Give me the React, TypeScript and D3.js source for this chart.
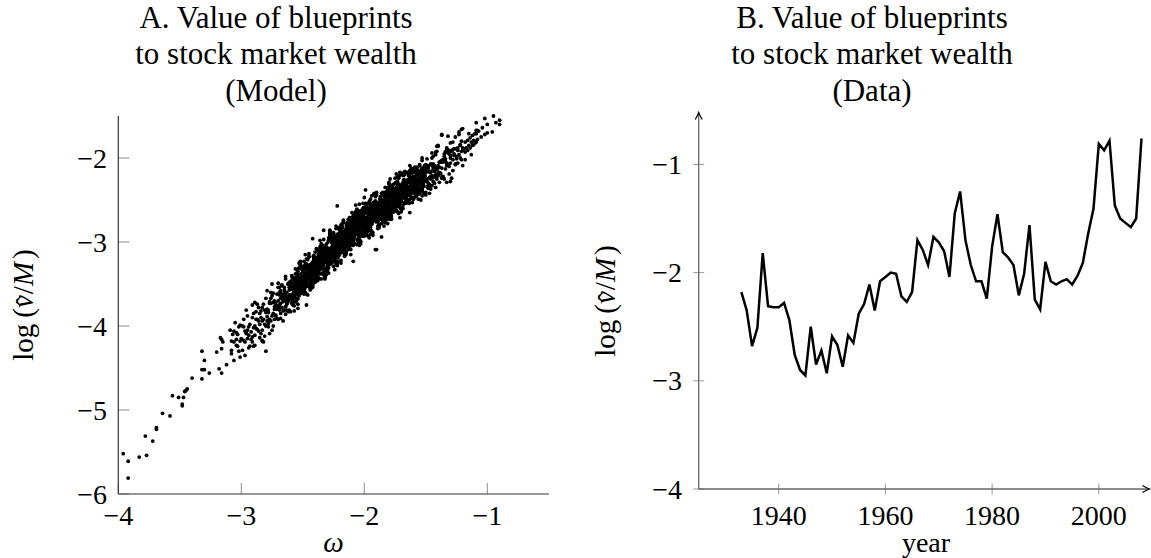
import React from 'react';
import * as d3 from 'd3';

const W = 1151;
const H = 558;
const FONT = "'Liberation Serif', 'Times New Roman', serif";

// ---------- Panel A: model scatter ----------
// each row: "-omega*100 : -log(nu/M)*100 values read for that omega"
const scatterRows = `
396:552
392:561 581
383:556
378:531
377:554
372:537
369:521 523
364:504
358:507
356:483
351:485
348:493 495
347:485
346:478
345:477
344:475
340:462
332:463 452 430
330:452 441
326:456
320:431
318:451
317:414
316:456 427 416
315:419
312:446
308:429
306:406
304:416
302:401
301:437
298:392
296:409
294:426
291:419 375
290:424
289:423
283:418 417
280:430
300:415
301:399 418
302:430
303:410 424
304:423 408
305:396
306:419 441
307:410
308:433 418
309:405
290:402 385
291:390 413
292:416 407
293:398 424
294:411 401
295:388 415 405
296:407 381
297:419 406 435
298:401 417
299:429 400
280:384 400 367
281:398 381 412
282:374 392 419
283:394 378 405
284:409 390 382
285:385 414 398
286:394 378 406
287:374 404 392
288:403 392 383
289:411 372 400
270:354 349 392 370
271:391 380 362 376
272:388 375 387 372
273:380 392 377 370
274:400 372 385 361
275:388 364 350 405
276:373 367 360 394
277:371 409 373 392
278:384 381 397 401
279:380 394 389 358
260:347 350 365 365 356 383
261:381 348 366 363 357 354
262:368 350 383 350 365 371
263:366 360 381 372 374 370
264:341 377 344 386 377 362
265:381 354 360 366 369 357
266:370 364 366 394 382 371
267:351 378 363 364 352 366
268:361 391 373 358 367 385
269:363 360 375 354 381 378
250:344 350 341 335 359 332 356 329
251:331 346 343 361 332 347 349 355
252:326 344 347 327 356 323 348 324
253:358 361 331 325 352 364 351 353
254:335 362 374 350 359 332 351 368
255:349 355 352 356 361 367 337 346
256:350 353 332 371 359 338 347 362
257:346 376 364 355 361 354 357 382
258:371 370 362 374 375 368 353 372
259:349 352 367 340 355 356 364 373
240:330 327 336 312 348 324 321 339 322 337
241:319 322 316 337 320 334 331 318 340 328
242:327 354 333 324 334 351 330 350 339 352
243:331 352 332 346 347 330 337 329 343 355
244:339 357 336 338 327 349 346 331 332 340
245:314 317 350 332 335 341 344 333 351 318
246:351 336 330 337 342 321 329 331 328 363
247:329 362 320 330 344 326 353 347 341 338
248:351 339 345 346 315 327 340 360 333 348
249:350 362 347 353 323 341 356 348 329 354
230:328 313 334 307 310 316 311 319 325 301 329
231:306 333 334 318 321 303 332 319 315 309 339
232:322 319 340 310 343 320 344 311 307 337 342
233:318 306 317 319 336 309 297 321 312 339 322
234:304 325 319 322 320 313 307 337 328 326 323
235:344 305 317 338 329 314 332 302 315 323 318
236:325 326 298 310 311 319 307 306 313 328 309
237:335 332 317 344 329 330 320 311 326 328 321
238:346 310 334 337 319 338 322 340 336 343 323
239:341 326 329 342 320 332 335 308 330 338 327
220:285 306 286 297 284 307 283 305 291 292 308 300
221:307 295 283 301 284 304 300 313 290 293 308 309
222:301 328 325 292 310 307 300 298 311 293 324 291
223:308 314 309 302 323 313 315 316 281 317 284 326
224:318 303 321 294 300 306 309 297 311 302 304 333
225:323 311 290 317 302 301 289 305 299 329 313 296
226:306 324 300 297 312 291 318 315 309 316 305 301
227:325 298 322 295 294 310 307 326 296 312 313 319
228:290 308 311 291 320 287 313 288 321 323 293 286
229:316 328 317 315 298 325 337 313 322 295 312 331
210:283 289 286 290 295 301 271 280 284 288 265 304
211:294 273 282 297 279 309 298 288 295 290 287 315
212:304 305 295 307 308 301 286 303 280 283 298 271
213:288 287 297 306 291 289 296 273 309 285 282 300
214:283 298 280 284 277 299 279 295 292 281 301 289
215:288 315 294 285 296 312 291 313 300 311 290 314
216:292 307 308 293 298 291 304 316 299 317 295 297
217:288 310 307 292 293 301 274 277 311 291 295 299
218:305 293 311 278 312 296 290 297 302 281 289 291
219:292 325 289 322 280 288 304 286 313 307 301 298
200:283 271 277 278 247 259 272 292 265 280 281 293
201:278 284 254 272 287 279 260 285 288 273 293 266
202:271 277 270 280 286 262 289 265 292 293 278 281
203:263 293 278 275 269 299 281 279 300 268 302 277
204:303 270 267 297 304 276 264 275 277 294 266 255
205:281 272 299 282 263 284 278 280 279 271 266 296
206:288 285 282 303 264 276 297 289 273 291 261 274
207:283 277 284 282 256 268 267 278 265 264 271 286
208:269 293 290 275 302 287 288 278 270 284 286 279
209:304 268 292 295 277 296 280 298 294 301 279 299
190:259 262 274 253 265 268 241 263 271 261 244
191:266 245 257 246 267 244 265 251 252 268 260
192:267 255 243 261 242 264 262 273 254 257 272
193:274 265 292 289 256 275 271 267 262 273 257
194:290 257 272 278 273 266 287 277 279 276 245
195:282 249 291 283 267 285 258 264 270 273 261
196:274 268 270 295 286 275 253 280 265 266 252
197:269 263 293 275 260 271 287 262 261 276 254
198:283 280 274 279 271 265 289 262 286 259 258
199:275 272 290 260 276 278 284 254 273 277 255
180:262 229 253 230 263 265 235 231 256 268
181:257 258 239 266 278 254 263 236 255 272
182:252 258 255 259 264 270 240 249 251 256
183:235 274 262 241 250 265 247 277 266 256
184:263 257 258 281 272 273 264 275 276 269
185:256 274 250 253 268 241 257 258 265 275
186:260 257 266 242 278 254 251 269 250 267
187:249 252 246 267 248 264 261 250 270 258
188:256 283 262 253 261 280 259 281 268 279
189:260 281 262 275 276 259 266 261 272 284
170:246 264 243 247 234 252 249 235 233 244
171:217 220 253 235 238 244 247 236 254 221
172:254 239 233 240 245 224 232 234 231 266
173:231 264 222 232 246 228 255 249 243 240
174:253 241 247 248 219 229 242 262 235 250
175:251 263 248 254 224 242 257 249 230 255
176:258 243 264 237 240 246 239 249 255 231
177:259 235 262 263 247 250 232 261 246 244
178:239 269 251 248 270 238 272 250 273 240
179:237 267 273 246 234 245 247 264 236 225
160:231 222 249 233 213 234 228 232 229
161:223 217 247 238 235 232 253 214 226
162:248 239 224 242 212 225 233 227 235
163:234 209 219 218 228 216 215 222 237
164:220 244 241 226 253 238 237 229 221
165:235 238 229 253 217 241 244 226 245
166:230 248 245 251 231 249 233 236 247
167:228 240 243 216 237 246 239 219 241
168:220 232 221 241 219 242 226 227 240
169:236 242 230 218 237 219 239 235 248
150:208 211 226 227 217 244 241 209
151:227 224 218 215 228 209 242 210
152:226 232 227 220 241 231 233 234
153:200 236 203 245 237 221 239 212
154:219 225 228 216 229 222 223 250
155:242 230 209 236 221 220 208 224
156:219 249 231 216 225 243 218 215
157:232 211 238 235 229 236 226 220
158:245 218 242 215 214 230 227 246
159:217 232 235 241 211 229 233 212
140:218 185 209 186 219 221
141:192 186 213 225 214 212
142:196 223 235 211 220 193
143:212 230 209 215 213 216
144:222 228 198 207 210 213
145:194 233 221 200 209 224
146:207 237 225 216 222 217
147:217 242 232 231 223 235
148:236 230 215 233 209 212
149:228 201 216 215 225 234
130:200 197 206 182
131:219 195 192 210
132:193 208 190 194
133:188 209 191 206
134:204 192 213 201
135:198 225 204 195
136:205 223 202 222
137:212 224 203 223
138:204 219 218 205
139:211 205 217 229
120:191 209 188
121:192 180 202
122:200 185 184
123:196 169 172
124:206 188 191
125:198 201 189
126:208 175 207
127:195 189 197
128:202 181 190
129:191 192 224
110:171 182
111:184
112:173 185
113:181
114:176 188
115:185
116:179 191
117:188
118:181 193
119:189
100:160 170
102:172
104:164
105:175
107:168
108:178
109:171
254:379
247:375
242:296
233:286
222:257 323
209:323
199:238
191:309
190:309
186:294
171:271
163:265
137:173 172
133:229
132:174
130:228
128:215
121:166
120:165
118:202
115:171
113:196
111:179
109:158 167 181
108:167
102:153
96:169
90:155 160
93:158
95:150
259.5:369 367 356 355 363
258.5:342 344 367 354 356
257.5:360 362 353 366 343
256.5:364 353 349 355 358
255.5:342 348 347 349 371
254.5:344 367 338 343 355
253.5:341 360 356 351 349
252.5:356 347 352 353 330
251.5:338 346 361 342 353
250.5:351 359 349 353 332
249.5:343 354 348 335 352
248.5:352 341 356 337 339
247.5:342 338 345 349 332
246.5:349 332 351 352 340
245.5:342 329 350 339 337
244.5:332 353 341 338 354
243.5:330 353 336 352 329
242.5:327 348 352 333 325
241.5:331 334 344 325 317
240.5:332 326 345 330 320
239.5:333 328 330 327 324
238.5:319 340 334 332 329
237.5:342 315 323 338 332
236.5:320 333 312 319 326
235.5:320 324 322 305 314
234.5:313 319 311 310 315
233.5:325 312 329 327 316
232.5:333 323 324 316 310
231.5:319 322 315 332 307
230.5:322 324 311 325 313
229.5:325 323 327 312 326
228.5:312 314 323 308 317
227.5:318 299 313 320 311
226.5:300 315 301 308 299
225.5:314 299 315 303 304
224.5:312 307 313 303 295
223.5:306 294 308 305 315
222.5:296 298 309 310 302
221.5:319 317 294 307 305
220.5:299 297 306 293 316
219.5:292 303 307 304 298
218.5:311 305 306 304 282
217.5:306 283 312 307 295
216.5:306 287 291 296 298
215.5:288 297 292 291 314
214.5:303 295 280 299 288
213.5:287 279 289 285 306
212.5:292 281 287 300 283
211.5:280 291 276 295 293
210.5:287 291 284 280 297
209.5:277 294 275 276 286
208.5:281 294 273 284 286
207.5:289 268 280 283 269
206.5:288 265 282 266 289
205.5:289 268 264 283 291
204.5:281 282 268 287 295
203.5:278 284 265 280 290
202.5:274 279 277 280 283
201.5:285 264 270 272 275
200.5:259 286 278 263 269
199.5:279 266 287 280 273
198.5:276 272 274 291 282
197.5:280 274 282 283 278
196.5:266 279 262 264 275
195.5:255 265 266 272 278
194.5:267 264 271 254 279
193.5:261 259 272 260 270
192.5:255 257 253 268 256
191.5:265 263 254 269 260
190.5:257 276 262 255 264
189.5:273 258 274 265 272
188.5:257 272 256 268 269
187.5:256 261 255 265 273
186.5:260 272 258 259 251
185.5:270 268 257 256 264
184.5:243 245 268 255 257
183.5:261 263 254 267 244
182.5:266 255 251 253 260
181.5:244 250 249 251 273
180.5:247 270 241 246 258
179.5:244 263 259 254 252
178.5:260 251 256 257 234
177.5:242 250 265 246 257
176.5:256 264 254 258 237
175.5:248 259 253 240 257
174.5:258 247 262 243 245
173.5:248 244 251 255 238
172.5:256 239 258 257 247
171.5:249 236 257 246 244
170.5:239 260 248 245 259
169.5:238 261 244 260 237
168.5:235 256 260 241 233
167.5:240 241 253 234 226
166.5:241 235 254 242 229
165.5:243 238 240 239 234
164.5:229 250 244 242 239
163.5:254 227 235 250 244
162.5:232 245 224 233 238
161.5:233 237 238 218 227
160.5:226 232 224 223 228
159.5:238 225 242 240 229
158.5:246 236 237 229 223
157.5:232 235 228 245 220
156.5:236 238 225 239 227
155.5:239 237 241 226 240
154.5:226 228 237 222 231
153.5:232 213 227 234 228
152.5:214 229 215 222 213
151.5:227 212 228 216 217
150.5:226 221 227 217 209
`;

const scatterOmega: number[] = [];
const scatterLogV: number[] = [];
scatterRows
  .trim()
  .split('\n')
  .forEach((line) => {
    const [k, vs] = line.split(':');
    const om = -Number(k) / 100;
    vs.trim()
      .split(/\s+/)
      .forEach((v) => {
        scatterOmega.push(om);
        scatterLogV.push(-Number(v) / 100);
      });
  });

const xTicksA = [-4, -3, -2, -1];
const yTicksA = [-6, -5, -4, -3, -2];

// ---------- Panel B: data series ----------
const years = [
  1933, 1934, 1935, 1936, 1937, 1938, 1939, 1940, 1941, 1942, 1943, 1944, 1945,
  1946, 1947, 1948, 1949, 1950, 1951, 1952, 1953, 1954, 1955, 1956, 1957, 1958,
  1959, 1960, 1961, 1962, 1963, 1964, 1965, 1966, 1967, 1968, 1969, 1970, 1971,
  1972, 1973, 1974, 1975, 1976, 1977, 1978, 1979, 1980, 1981, 1982, 1983, 1984,
  1985, 1986, 1987, 1988, 1989, 1990, 1991, 1992, 1993, 1994, 1995, 1996, 1997,
  1998, 1999, 2000, 2001, 2002, 2003, 2004, 2005, 2006, 2007, 2008,
];
const logNuData = [
  -2.18, -2.35, -2.68, -2.51, -1.82, -2.31, -2.32, -2.32, -2.28, -2.44, -2.76, -2.9, -2.95,
  -2.5, -2.85, -2.72, -2.93, -2.59, -2.67, -2.87, -2.58, -2.65, -2.38, -2.29, -2.11, -2.35,
  -2.08, -2.04, -2.0, -2.01, -2.22, -2.27, -2.18, -1.7, -1.79, -1.93, -1.67, -1.72, -1.8,
  -2.04, -1.45, -1.25, -1.7, -1.93, -2.08, -2.08, -2.24, -1.76, -1.46, -1.81, -1.86, -1.93,
  -2.21, -2.01, -1.56, -2.25, -2.34, -1.9, -2.08, -2.11, -2.08, -2.06, -2.11, -2.03, -1.91,
  -1.64, -1.41, -0.81, -0.87, -0.78, -1.38, -1.5, -1.54, -1.58, -1.5, -0.76,
];
const xTicksB = [1940, 1960, 1980, 2000];
const yTicksB = [-4, -3, -2, -1];

const titleA = ['A. Value of blueprints', 'to stock market wealth', '(Model)'];
const titleB = ['B. Value of blueprints', 'to stock market wealth', '(Data)'];

// ---------- scales ----------
const xA = d3.scaleLinear().domain([-4, -0.5]).range([118.3, 548.8]);
const yA = d3.scaleLinear().domain([-6, -1.5]).range([494, 116]);
const xB = d3.scaleLinear().domain([1925, 2009.5]).range([698.7, 1149.5]);
const yB = d3.scaleLinear().domain([-4, -0.52]).range([489, 112.5]);

const fmt = (v: number) => (v < 0 ? '\u2212' + Math.abs(v) : String(v));

const YLabel = ({ x, y }: { x: number; y: number }) => (
  <text
    transform={`translate(${x},${y}) rotate(-90)`}
    textAnchor="middle"
    fontSize={29}
    fill="#000"
  >
    <tspan>log</tspan>
    <tspan dx={6}>(</tspan>
    <tspan fontStyle="italic">{'\u03BD'}</tspan>
    <tspan dx={-10.5} dy={2} fontSize={27}>{'\u02C6'}</tspan>
    <tspan dx={2.5} dy={-2}>/</tspan>
    <tspan fontStyle="italic">M</tspan>
    <tspan dx={3}>)</tspan>
  </text>
);

const Title = ({ x, lines }: { x: number; lines: string[] }) => (
  <g>
    {lines.map((t, i) => (
      <text key={i} x={x} y={27.5 + i * 36.5} textAnchor="middle" fontSize={31} fill="#000">
        {t}
      </text>
    ))}
  </g>
);

export default function App() {
  const lineGen = d3
    .line<number>()
    .x((_, i) => xB(years[i]))
    .y((d) => yB(d));

  const axisColA = '#333';
  const tickColA = '#8c8c8c';
  const axisColB = '#666';
  const tickColB = '#999';

  const yTopB = yB.range()[1];
  const xEndB = xB.range()[1];
  const x0B = xB(1925);
  const y0B = yB(-4);

  return (
    <svg
      width={W}
      height={H}
      viewBox={`0 0 ${W} ${H}`}
      style={{ position: 'absolute', left: 0, top: 0, background: '#fff' }}
      fontFamily={FONT}
    >
      <rect x={0} y={0} width={W} height={H} fill="#fff" />

      {/* ---------------- Panel A ---------------- */}
      <Title x={276} lines={titleA} />
      <g>
        {scatterOmega.map((o, i) => (
          <circle key={i} cx={xA(o)} cy={yA(scatterLogV[i])} r={1.9} fill="#000" />
        ))}
      </g>
      {xTicksA.map((t) => (
        <line key={'xa' + t} x1={xA(t)} x2={xA(t)} y1={yA(-6)} y2={yA(-6) - 11} stroke={tickColA} strokeWidth={1} />
      ))}
      {yTicksA.map((t) => (
        <line key={'ya' + t} x1={xA(-4)} x2={xA(-4) + 11} y1={yA(t)} y2={yA(t)} stroke={tickColA} strokeWidth={1} />
      ))}
      <line x1={xA(-4)} x2={xA(-4)} y1={yA(-6)} y2={yA(-1.5)} stroke={axisColA} strokeWidth={1.2} />
      <line x1={xA(-4)} x2={xA(-0.5)} y1={yA(-6)} y2={yA(-6)} stroke={axisColA} strokeWidth={1.2} />
      {xTicksA.map((t) => (
        <text key={'xal' + t} x={xA(t)} y={525} textAnchor="middle" fontSize={28} fill="#000">
          {fmt(t)}
        </text>
      ))}
      {yTicksA.map((t) => (
        <text key={'yal' + t} x={107} y={yA(t) + 9.5} textAnchor="end" fontSize={28} fill="#000">
          {fmt(t)}
        </text>
      ))}
      <text x={333.5} y={552} textAnchor="middle" fontSize={29} fontStyle="italic" fill="#000">
        {'\u03C9'}
      </text>
      <YLabel x={33} y={305} />

      {/* ---------------- Panel B ---------------- */}
      <Title x={872} lines={titleB} />
      {xTicksB.map((t) => (
        <line key={'xb' + t} x1={xB(t)} x2={xB(t)} y1={y0B - 5.5} y2={y0B + 5.5} stroke={tickColB} strokeWidth={1} />
      ))}
      {yTicksB.map((t) => (
        <line key={'yb' + t} x1={x0B - 5.5} x2={x0B + 5.5} y1={yB(t)} y2={yB(t)} stroke={tickColB} strokeWidth={1} />
      ))}
      <line x1={x0B} x2={x0B} y1={y0B} y2={yTopB} stroke={axisColB} strokeWidth={1.3} />
      <line x1={x0B} x2={xEndB} y1={y0B} y2={y0B} stroke={axisColB} strokeWidth={1.3} />
      <path
        d={`M${x0B - 3.5},${yTopB + 7} Q${x0B - 0.8},${yTopB + 2.5} ${x0B},${yTopB} Q${x0B + 0.8},${yTopB + 2.5} ${x0B + 3.5},${yTopB + 7}`}
        fill="none"
        stroke="#000"
        strokeWidth={1.2}
      />
      <path
        d={`M${xEndB - 7},${y0B - 3.5} Q${xEndB - 2.5},${y0B - 0.8} ${xEndB},${y0B} Q${xEndB - 2.5},${y0B + 0.8} ${xEndB - 7},${y0B + 3.5}`}
        fill="none"
        stroke="#000"
        strokeWidth={1.2}
      />
      <path d={lineGen(logNuData) || ''} fill="none" stroke="#000" strokeWidth={2.5} strokeLinejoin="miter" />
      {xTicksB.map((t) => (
        <text key={'xbl' + t} x={xB(t)} y={525} textAnchor="middle" fontSize={28} fill="#000">
          {fmt(t)}
        </text>
      ))}
      {yTicksB.map((t) => (
        <text key={'ybl' + t} x={682} y={yB(t) + 9.5} textAnchor="end" fontSize={28} fill="#000">
          {fmt(t)}
        </text>
      ))}
      <text x={926} y={551.5} textAnchor="middle" fontSize={28} fill="#000">
        year
      </text>
      <YLabel x={614.5} y={301} />
    </svg>
  );
}
